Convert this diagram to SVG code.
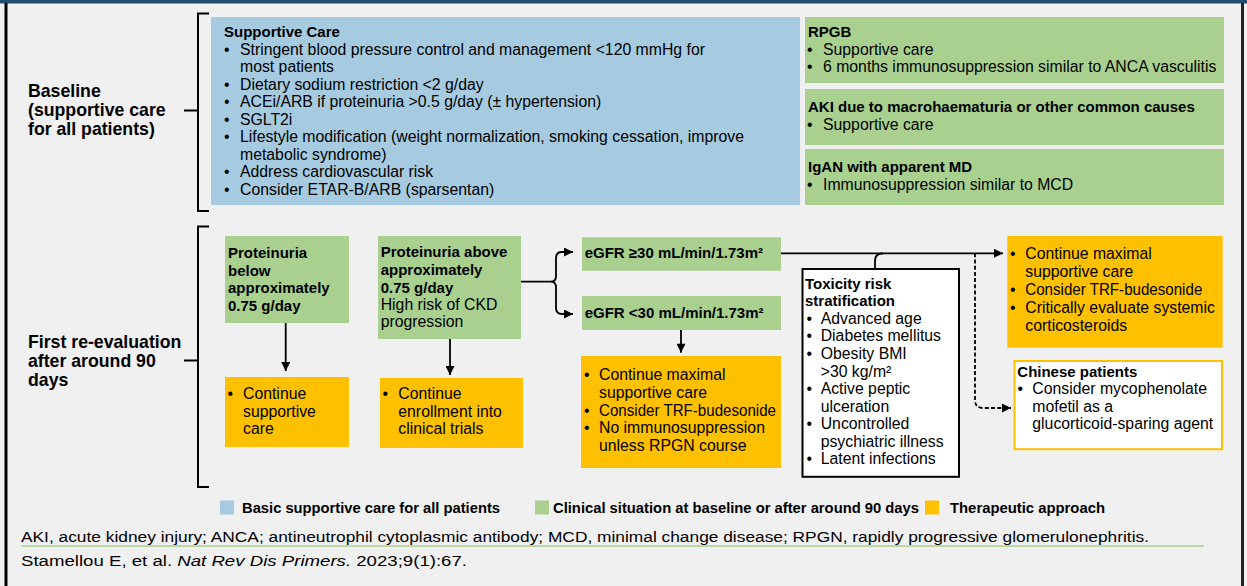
<svg xmlns="http://www.w3.org/2000/svg" width="1247" height="586" viewBox="0 0 1247 586">
<defs>
<marker id="ah" viewBox="0 0 10 10" refX="10" refY="5" markerWidth="10" markerHeight="9" markerUnits="userSpaceOnUse" orient="auto"><path d="M0,0 L10,5 L0,10 z" fill="#000"/></marker>
<style>
text{font-family:"Liberation Sans",Arial,sans-serif;fill:#000}
.r{font-size:15.8px}
.b{font-size:15px;font-weight:bold}
.lbl{font-size:17.7px;font-weight:bold}
.leg{font-size:14.8px;font-weight:bold}
.fn{font-size:15.5px}
.blue{fill:#a6cbe0}
.green{fill:#a9d08e}
.orange{fill:#ffc000}
.ln{fill:none;stroke:#000;stroke-width:1.8}
.br{fill:none;stroke:#000;stroke-width:2}
</style>
</defs>
<rect width="1247" height="586" fill="#f0f0f0"/>
<rect x="0" y="0" width="1247" height="3.5" fill="#1f4e6e"/>
<rect x="4.5" y="3" width="3" height="583" fill="#000"/>
<rect x="1241" y="3" width="3" height="583" fill="#222"/>

<g id="label-baseline">
<text class="lbl"><tspan x="28" y="96.7">Baseline</tspan><tspan x="28" y="116">(supportive care</tspan><tspan x="28" y="135">for all patients)</tspan></text>
</g>
<g id="label-first">
<text class="lbl"><tspan x="28" y="348">First re-evaluation</tspan><tspan x="28" y="367">after around 90</tspan><tspan x="28" y="386">days</tspan></text>
</g>

<g id="brackets">
<path class="br" d="M209,13.5 H198 V211 H209 M184,110.5 H198"/>
<path class="br" d="M209,226.5 H198 V487 H209 M184,360.5 H198"/>
</g>

<g id="supportive-care">
<rect class="blue" x="211" y="17" width="589" height="188"/>
<text class="b" x="224" y="36.7">Supportive Care</text>
<text class="r"><tspan x="224" y="55">•</tspan><tspan x="240">Stringent blood pressure control and management &lt;120 mmHg for</tspan></text>
<text class="r" x="240" y="72">most patients</text>
<text class="r"><tspan x="224" y="90">•</tspan><tspan x="240">Dietary sodium restriction &lt;2 g/day</tspan></text>
<text class="r"><tspan x="224" y="107">•</tspan><tspan x="240">ACEi/ARB if proteinuria &gt;0.5 g/day (± hypertension)</tspan></text>
<text class="r"><tspan x="224" y="124.5">•</tspan><tspan x="240">SGLT2i</tspan></text>
<text class="r"><tspan x="224" y="142">•</tspan><tspan x="240">Lifestyle modification (weight normalization, smoking cessation, improve</tspan></text>
<text class="r" x="240" y="159.5">metabolic syndrome)</text>
<text class="r"><tspan x="224" y="177.3">•</tspan><tspan x="240">Address cardiovascular risk</tspan></text>
<text class="r"><tspan x="224" y="195">•</tspan><tspan x="240">Consider ETAR-B/ARB (sparsentan)</tspan></text>
</g>

<g id="rpgb">
<rect class="green" x="805" y="17" width="419" height="66"/>
<text class="b" x="808" y="36.7">RPGB</text>
<text class="r"><tspan x="807" y="55">•</tspan><tspan x="823">Supportive care</tspan></text>
<text class="r"><tspan x="807" y="72">•</tspan><tspan x="823">6 months immunosuppression similar to ANCA vasculitis</tspan></text>
</g>
<g id="aki">
<rect class="green" x="805" y="89" width="419" height="56"/>
<text class="b" x="808" y="112">AKI due to macrohaematuria or other common causes</text>
<text class="r"><tspan x="807" y="130">•</tspan><tspan x="823">Supportive care</tspan></text>
</g>
<g id="igan">
<rect class="green" x="805" y="149" width="419" height="56"/>
<text class="b" x="808" y="172">IgAN with apparent MD</text>
<text class="r"><tspan x="807" y="190">•</tspan><tspan x="823">Immunosuppression similar to MCD</tspan></text>
</g>

<g id="prot-below">
<rect class="green" x="225" y="236" width="124" height="87"/>
<text class="b"><tspan x="228" y="258">Proteinuria</tspan><tspan x="228" y="275.5">below</tspan><tspan x="228" y="293">approximately</tspan><tspan x="228" y="310.5">0.75 g/day</tspan></text>
</g>
<g id="continue-supportive">
<rect class="orange" x="225" y="377" width="124" height="70"/>
<text class="r"><tspan x="227.5" y="399">•</tspan><tspan x="243">Continue</tspan></text>
<text class="r"><tspan x="243" y="416.5">supportive</tspan><tspan x="243" y="434">care</tspan></text>
</g>

<g id="prot-above">
<rect class="green" x="378" y="236" width="143" height="103"/>
<text class="b"><tspan x="380.7" y="257">Proteinuria above</tspan><tspan x="380.7" y="274.5">approximately</tspan><tspan x="380.7" y="292.5">0.75 g/day</tspan></text>
<text class="r"><tspan x="380.7" y="310">High risk of CKD</tspan><tspan x="380.7" y="327">progression</tspan></text>
</g>
<g id="continue-trials">
<rect class="orange" x="380" y="378" width="143" height="70"/>
<text class="r"><tspan x="382.5" y="399">•</tspan><tspan x="398.3">Continue</tspan></text>
<text class="r"><tspan x="398.3" y="416.5">enrollment into</tspan><tspan x="398.3" y="434">clinical trials</tspan></text>
</g>

<g id="egfr-high">
<rect class="green" x="582" y="237.3" width="199" height="33.4"/>
<text class="b" x="584.7" y="258.3">eGFR ≥30 mL/min/1.73m²</text>
</g>
<g id="egfr-low">
<rect class="green" x="582" y="296" width="199" height="34"/>
<text class="b" x="584.7" y="317.5">eGFR &lt;30 mL/min/1.73m²</text>
</g>
<g id="continue-low">
<rect class="orange" x="581" y="356" width="200" height="112"/>
<text class="r"><tspan x="584" y="380">•</tspan><tspan x="599">Continue maximal</tspan></text>
<text class="r" x="599" y="398.3">supportive care</text>
<text class="r" x="584" y="415.5">•</text>
<text class="r" x="599" y="415.5" textLength="177" lengthAdjust="spacingAndGlyphs">Consider TRF-budesonide</text>
<text class="r"><tspan x="584" y="433.3">•</tspan><tspan x="599">No immunosuppression</tspan></text>
<text class="r" x="599" y="450.5">unless RPGN course</text>
</g>

<g id="toxicity">
<rect x="802.5" y="269" width="156.5" height="207.8" fill="#fff" stroke="#000" stroke-width="2"/>
<text class="b"><tspan x="805" y="288.5">Toxicity risk</tspan><tspan x="805" y="306">stratification</tspan></text>
<text class="r"><tspan x="806.5" y="324">•</tspan><tspan x="820.7">Advanced age</tspan></text>
<text class="r"><tspan x="806.5" y="341.3">•</tspan><tspan x="820.7">Diabetes mellitus</tspan></text>
<text class="r"><tspan x="806.5" y="359.3">•</tspan><tspan x="820.7">Obesity BMI</tspan></text>
<text class="r" x="820.7" y="376.7">&gt;30 kg/m²</text>
<text class="r"><tspan x="806.5" y="394.3">•</tspan><tspan x="820.7">Active peptic</tspan></text>
<text class="r" x="820.7" y="411.5">ulceration</text>
<text class="r"><tspan x="806.5" y="429">•</tspan><tspan x="820.7">Uncontrolled</tspan></text>
<text class="r" x="820.7" y="446.7">psychiatric illness</text>
<text class="r"><tspan x="806.5" y="464">•</tspan><tspan x="820.7">Latent infections</tspan></text>
</g>

<g id="continue-high">
<rect class="orange" x="1007.3" y="236" width="215.4" height="111.7"/>
<text class="r"><tspan x="1010" y="259.3">•</tspan><tspan x="1025.3">Continue maximal</tspan></text>
<text class="r" x="1025.3" y="277.3">supportive care</text>
<text class="r" x="1010" y="295">•</text>
<text class="r" x="1025.3" y="295" textLength="177" lengthAdjust="spacingAndGlyphs">Consider TRF-budesonide</text>
<text class="r"><tspan x="1010" y="312.7">•</tspan><tspan x="1025.3">Critically evaluate systemic</tspan></text>
<text class="r" x="1025.3" y="330.5">corticosteroids</text>
</g>

<g id="chinese">
<rect x="1014.5" y="361" width="207.5" height="88.2" fill="#fff" stroke="#ffc000" stroke-width="2"/>
<text class="b" x="1017.3" y="376.7">Chinese patients</text>
<text class="r"><tspan x="1017.5" y="394">•</tspan><tspan x="1032.3">Consider mycophenolate</tspan></text>
<text class="r"><tspan x="1032.3" y="411.7">mofetil as a</tspan><tspan x="1032.3" y="429">glucorticoid-sparing agent</tspan></text>
</g>

<g id="connectors">
<path class="ln" d="M285.7,323 V371" marker-end="url(#ah)"/>
<path class="ln" d="M450,339 V375" marker-end="url(#ah)"/>
<path class="ln" d="M681,330 V352.7" marker-end="url(#ah)"/>
<path class="ln" d="M521,281.7 H551 Q556,281.7 556,276 V258 Q556,252 562,252 H573" marker-end="url(#ah)"/>
<path class="ln" d="M551,281.7 Q556,281.7 556,287.5 V308 Q556,314 562,314 H573" marker-end="url(#ah)"/>
<path class="ln" d="M781,253.3 H1003" marker-end="url(#ah)"/>
<path class="ln" d="M875,269 V261 Q875,253.3 883,253.3"/>
<path class="ln" d="M975,253.3 V400 Q975,408 983,408 H1011" stroke-dasharray="4 2.2" marker-end="url(#ah)"/>
</g>

<g id="legend">
<rect class="blue" x="220" y="500.5" width="14" height="14"/>
<text class="leg" x="242" y="513" textLength="258" lengthAdjust="spacingAndGlyphs">Basic supportive care for all patients</text>
<rect class="green" x="535" y="500.5" width="14" height="14"/>
<text class="leg" x="553" y="513" textLength="366" lengthAdjust="spacingAndGlyphs">Clinical situation at baseline or after around 90 days</text>
<rect class="orange" x="925" y="500.5" width="14" height="14"/>
<text class="leg" x="950" y="513" textLength="155" lengthAdjust="spacingAndGlyphs">Therapeutic approach</text>
</g>

<g id="footnote">
<text class="fn" x="21" y="541.5" textLength="1128" lengthAdjust="spacingAndGlyphs">AKI, acute kidney injury; ANCA; antineutrophil cytoplasmic antibody; MCD, minimal change disease; RPGN, rapidly progressive glomerulonephritis.</text>
<line x1="21" y1="546" x2="1203.6" y2="546" stroke="#a9d08e" stroke-width="1.6"/>
<text class="fn" x="21" y="566" textLength="446" lengthAdjust="spacingAndGlyphs">Stamellou E, et al. <tspan font-style="italic">Nat Rev Dis Primers.</tspan> 2023;9(1):67.</text>
</g>
</svg>
